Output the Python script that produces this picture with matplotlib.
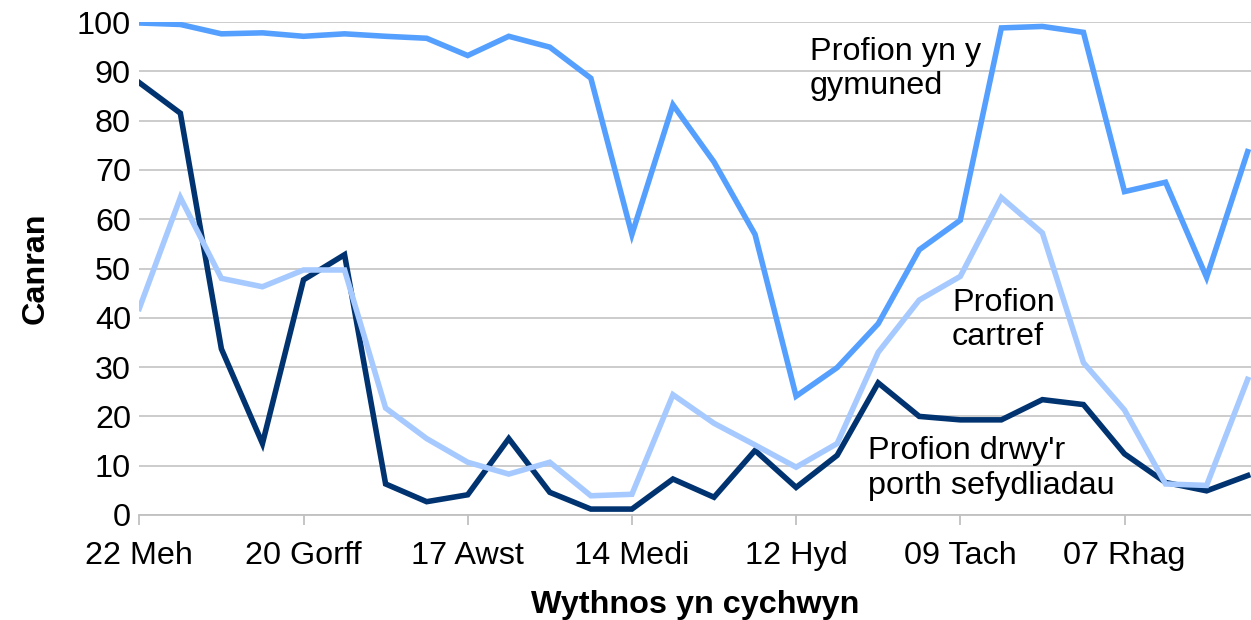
import numpy as np
import matplotlib
matplotlib.use('Agg')
import matplotlib.pyplot as plt

plt.rcParams['font.family'] = ['Liberation Sans', 'DejaVu Sans']

# weekly percentages, week starting 22 Meh
community = [99.8, 99.5, 97.6, 97.8, 97.1, 97.6, 97.1, 96.7, 93.2, 97.1,
             94.9, 88.6, 56.9, 83.2, 71.6, 56.9, 24.1, 29.9, 38.8, 53.8,
             59.8, 98.8, 99.1, 97.9, 65.6, 67.5, 48.2, 73.7]
institutions = [87.7, 81.5, 33.7, 14.5, 47.7, 52.8, 6.3, 2.7, 4.1, 15.5,
                4.6, 1.2, 1.2, 7.3, 3.6, 13.1, 5.6, 12.1, 26.8, 20.0,
                19.3, 19.3, 23.4, 22.4, 12.4, 6.6, 4.9, 8.0]
home = [41.9, 64.4, 48.0, 46.3, 49.7, 49.7, 21.7, 15.5, 10.7, 8.3,
        10.7, 3.9, 4.2, 24.4, 18.6, 14.2, 9.7, 14.5, 33.0, 43.6,
        48.4, 64.4, 57.2, 30.9, 21.3, 6.3, 6.0, 27.5]
tick_labels = ['22 Meh', '20 Gorff', '17 Awst', '14 Medi', '12 Hyd', '09 Tach', '07 Rhag']

x = np.arange(len(community))
fs = 23.3

fig = plt.figure(figsize=(12.51, 6.2), dpi=100)
ax = fig.add_axes([139.3/1251, 105/620, (1251-139.3)/1251, (515-22)/620])

ax.plot(x, institutions, color='#003370', lw=4, solid_joinstyle='miter', zorder=3)
ax.plot(x, home, color='#a6caff', lw=4, solid_joinstyle='miter', zorder=4)
ax.plot(x, community, color='#55a0ff', lw=4, solid_joinstyle='miter', zorder=5)

ax.set_xlim(0, (1251-139.3)/41.05)
ax.set_ylim(0, 100)
ax.set_yticks(range(0, 101, 10))
ax.set_xticks(x[::4])
ax.set_xticklabels(tick_labels)

ax.grid(axis='y', color='#c8c8c8', lw=1.3)
ax.set_axisbelow(True)
for s in ['top', 'right', 'left']:
    ax.spines[s].set_visible(False)
ax.spines['bottom'].set_color('#c0c0c0')
ax.spines['bottom'].set_linewidth(1.3)
ax.tick_params(axis='x', length=7.5, width=1.3, color='#c0c0c0', labelsize=fs, pad=11)
ax.tick_params(axis='y', length=0, labelsize=fs, pad=6)

ax.set_ylabel('Canran', fontsize=fs, fontweight='bold', labelpad=19)
ax.set_xlabel('Wythnos yn cychwyn', fontsize=fs, fontweight='bold', labelpad=14)

ax.text(16.34, 97.0, 'Profion yn y\ngymuned', fontsize=fs, va='top', ha='left')
ax.text(19.8, 46.1, 'Profion\ncartref', fontsize=fs, va='top', ha='left')
ax.text(17.75, 16.0, "Profion drwy'r\nporth sefydliadau", fontsize=fs, va='top', ha='left')

plt.savefig('out.png', dpi=100)
